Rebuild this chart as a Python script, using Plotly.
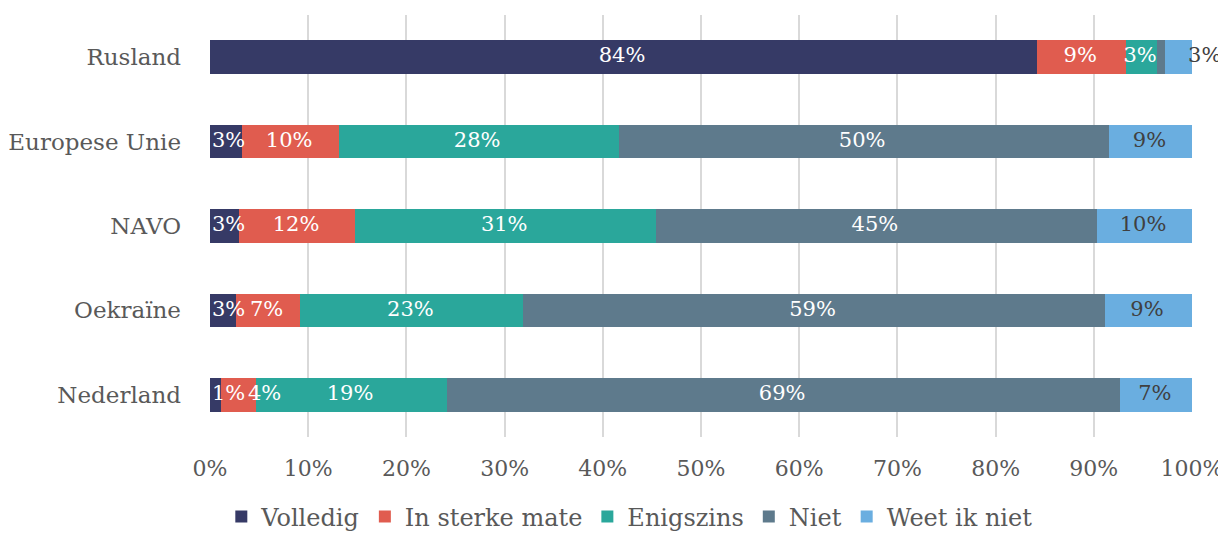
import plotly.graph_objects as go

categories = ["Rusland", "Europese Unie", "NAVO", "Oekraïne", "Nederland"]
series_names = ["Volledig", "In sterke mate", "Enigszins", "Niet", "Weet ik niet"]
volledig = [84.2, 3.3, 3.0, 2.6, 1.1]
sterk = [9.1, 9.8, 11.8, 6.6, 3.6]
enigszins = [3.1, 28.5, 30.6, 22.7, 19.4]
niet = [0.9, 49.9, 44.9, 59.2, 68.6]
weet = [2.7, 8.6, 9.7, 8.9, 7.3]
series_values = [volledig, sterk, enigszins, niet, weet]
hidden_labels = {("Niet", "Rusland")}
outside_labels = {("Weet ik niet", "Rusland")}
tick_vals = [0, 10, 20, 30, 40, 50, 60, 70, 80, 90, 100]
tick_text = [f"{v}%" for v in tick_vals]

colors = ["#363a66", "#e05c4f", "#2aa79b", "#5e7a8c", "#6aaee0"]
text_colors = ["white", "white", "white", "white", "#404040"]
FONT = "DejaVu Serif"
LABEL_SIZE = 21

fig = go.Figure()
for name, vals, col in zip(series_names, series_values, colors):
    fig.add_trace(go.Bar(
        y=categories, x=vals, name=name, orientation="h",
        marker=dict(color=col, line=dict(width=0)),
        hoverinfo="skip",
    ))

# label layout (left-to-right, avoiding overlaps like the original)
def est_width(s):
    # approximate text width in axis percent units (982 px per 100%)
    px = sum(0.64 * LABEL_SIZE if ch.isdigit() else 0.93 * LABEL_SIZE for ch in s) + 3
    return px / 9.82

label_pos = {n: ([], [], []) for n in series_names}  # x, text, textposition
for i, cat in enumerate(categories):
    start = 0.0
    prev_right = 0.0
    for name, vals in zip(series_names, series_values):
        v = vals[i]
        xs, ts, ps = label_pos[name]
        txt = "" if (name, cat) in hidden_labels else f"{round(v)}%"
        if (name, cat) in outside_labels:
            left = start + v - 0.4
        else:
            w = est_width(txt) if txt else 0
            left = max(start + v / 2 - w / 2, prev_right, 0.2)
            if txt:
                prev_right = left + w
        xs.append(left)
        ts.append(txt)
        ps.append("middle right")
        start += v

for name, tcol in zip(series_names, text_colors):
    xs, ts, ps = label_pos[name]
    cols = []
    for cat in categories:
        cols.append("#404040" if (name, cat) in outside_labels else tcol)
    fig.add_trace(go.Scatter(
        x=xs, y=categories, mode="text", text=ts, textposition=ps,
        textfont=dict(color=cols, size=LABEL_SIZE, family=FONT),
        showlegend=False, hoverinfo="skip", cliponaxis=False,
    ))

fig.update_layout(
    barmode="stack",
    bargap=0.6,
    width=1218, height=525,
    margin=dict(l=202, r=34, t=7, b=96, autoexpand=False),
    plot_bgcolor="white", paper_bgcolor="white",
    font=dict(family=FONT, color="#595959", size=20),
    legend=dict(orientation="h", x=0.427, xanchor="center", y=-0.136, yanchor="top",
                font=dict(size=24, color="#595959"), traceorder="normal",
                itemwidth=30, tracegroupgap=0),
    showlegend=True,
)
fig.update_xaxes(range=[0, 100], tickvals=tick_vals, ticktext=tick_text,
                 showgrid=True, gridcolor="#d9d9d9", gridwidth=2,
                 zeroline=False, showline=False, ticks="", ticklen=0,
                 ticklabelstandoff=16, automargin=False,
                 tickfont=dict(size=22, color="#595959"))
fig.update_yaxes(categoryorder="array", categoryarray=categories[::-1],
                 range=[-0.5, 4.5],
                 showgrid=False, zeroline=False, showline=False, ticks="", ticklen=0,
                 ticklabelstandoff=28, automargin=False,
                 tickfont=dict(size=23, color="#595959"))

fig.write_html("out.html")
